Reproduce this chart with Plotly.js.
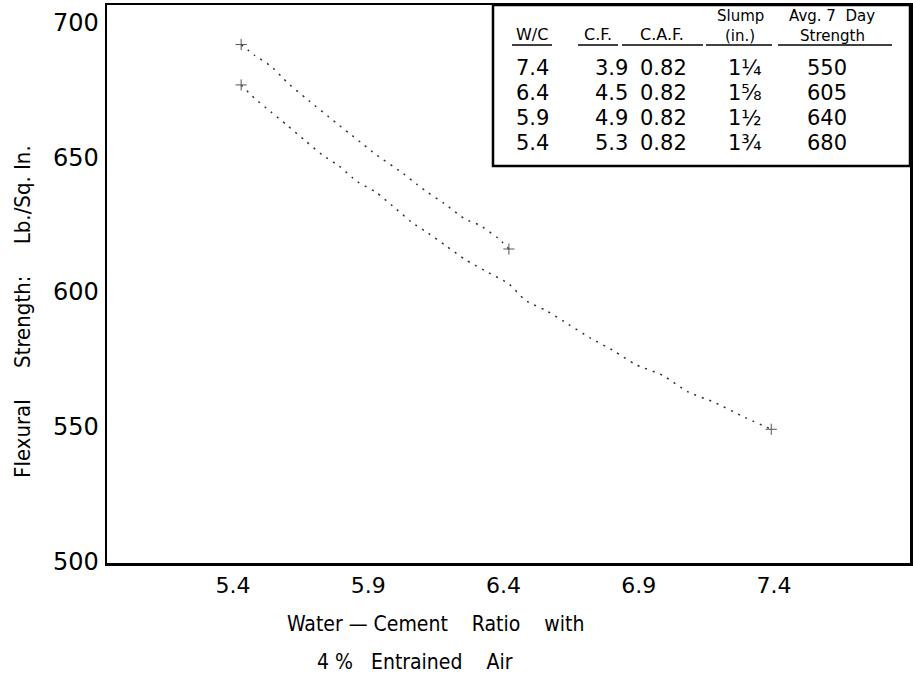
<!DOCTYPE html>
<html><head><meta charset="utf-8">
<script src="https://cdn.plot.ly/plotly-3.0.1.min.js"></script>
<style>body{margin:0;background:#fff}#chart{width:913px;height:679px}</style>
</head><body><div id="chart"></div>
<script>
// ---- data ----
const ratioTicks = [5.4, 5.9, 6.4, 6.9, 7.4];
const ratioTickText = ["5.4", "5.9", "6.4", "6.9", "7.4"];
const strengthTicks = [500, 550, 600, 650, 700];
const strengthTickText = ["500", "550", "600", "650", "700"];

// lower curve: Avg. 7 day strength vs W/C
const lowerX = [5.43, 5.48, 5.54, 5.60, 5.67, 5.73, 5.79, 5.86, 5.93, 5.99, 6.06, 6.12, 6.19, 6.26, 6.33, 6.42, 6.48, 6.56, 6.64, 6.72, 6.81, 6.89, 6.99, 7.08, 7.18, 7.28, 7.39];
const lowerY = [677, 672, 667, 662, 656, 651, 647, 641, 637, 632, 626, 622, 617, 612, 608, 603, 597, 593, 588, 583, 578, 573, 569, 563, 559, 554, 549];

// upper curve
const upperX = [5.43, 5.48, 5.54, 5.58, 5.61, 5.67, 5.78, 5.83, 5.88, 5.93, 6.03, 6.08, 6.12, 6.18, 6.26, 6.31, 6.38, 6.42];
const upperY = [692, 688, 684, 680, 677, 672, 663, 659, 655, 651, 644, 640, 637, 633, 627, 625, 620, 616];

// table
const colHeaderTop = ["", "", "", "Slump", "Avg. 7  Day"];
const colHeaderBottom = ["W/C", "C.F.", "C.A.F.", "(in.)", "Strength"];
const tableWC = ["7.4", "6.4", "5.9", "5.4"];
const tableCF = ["3.9", "4.5", "4.9", "5.3"];
const tableCAF = ["0.82", "0.82", "0.82", "0.82"];
const tableSlump = ["1¼", "1⅝", "1½", "1¾"];
const tableStrength = ["550", "605", "640", "680"];

// ---- layout helpers (pixel positions -> paper) ----
const W = 913, H = 679;
const M = {l: 107, r: 3, t: 5, b: 116};
const PW = W - M.l - M.r, PH = H - M.t - M.b;
const px = x => (x - M.l) / PW;
const py = y => (H - M.b - y) / PH;

const FONT = "'DejaVu Sans', 'Liberation Sans', sans-serif";
const NARROW = "'DejaVu Sans Condensed', 'Liberation Sans Narrow', 'Liberation Sans', sans-serif";

const lineStyle = {color: "#333", width: 1.5, dash: "2px,6px", shape: "spline", smoothing: 0.6};

const traces = [
  {x: lowerX, y: lowerY, mode: "lines", line: lineStyle, hoverinfo: "skip", showlegend: false},
  {x: upperX, y: upperY, mode: "lines", line: lineStyle, hoverinfo: "skip", showlegend: false},
  {x: [lowerX[0], lowerX[lowerX.length - 1], upperX[0], upperX[upperX.length - 1]],
   y: [lowerY[0], lowerY[lowerY.length - 1], upperY[0], upperY[upperY.length - 1]],
   mode: "markers", marker: {symbol: "cross-thin-open", size: 8, color: "#555", line: {color: "#555", width: 1}},
   hoverinfo: "skip", showlegend: false}
];

const ann = [];
const shapes = [];
// table box
shapes.push({type: "rect", xref: "paper", yref: "paper", x0: px(493), x1: px(910), y0: py(166), y1: py(5),
  line: {color: "#000", width: 2.5}, fillcolor: "rgba(0,0,0,0)"});

const colX = [532, 598, 662, 740, 832];
const valX = [532, 611, 663, 745, 827];
const underline = [[512, 552], [578, 618], [622, 703], [706, 772], [778, 892]];
for (let i = 0; i < colX.length; i++) {
  if (colHeaderTop[i]) {
    ann.push({xref: "paper", yref: "paper", x: px(colX[i]), y: py(26), text: colHeaderTop[i],
      showarrow: false, xanchor: "center", yanchor: "bottom", borderpad: 0,
      font: {family: FONT, size: 15, color: "#000"}});
    ann.push({xref: "paper", yref: "paper", x: px(colX[i]), y: py(26), text: colHeaderBottom[i],
      showarrow: false, xanchor: "center", yanchor: "top", borderpad: 0,
      font: {family: FONT, size: 15, color: "#000"}});
  } else {
    ann.push({xref: "paper", yref: "paper", x: px(colX[i]), y: py(34), text: colHeaderBottom[i],
      showarrow: false, xanchor: "center", yanchor: "middle", font: {family: FONT, size: 16, color: "#000"}});
  }
  shapes.push({type: "line", xref: "paper", yref: "paper", x0: px(underline[i][0]), x1: px(underline[i][1]),
    y0: py(45), y1: py(45), line: {color: "#000", width: 1.5}});
}
const cols = [tableWC, tableCF, tableCAF, tableSlump, tableStrength];
const rowY = [68, 93, 118, 143];
for (let c = 0; c < cols.length; c++) {
  for (let r = 0; r < rowY.length; r++) {
    ann.push({xref: "paper", yref: "paper", x: px(valX[c]), y: py(rowY[r]), text: cols[c][r],
      showarrow: false, xanchor: "center", yanchor: "middle", font: {family: FONT, size: 21, color: "#000"}});
  }
}
// axis titles
ann.push({xref: "paper", yref: "paper", x: px(22), y: py(312), text: "Flexural     Strength:     Lb./Sq. In.",
  textangle: -90, showarrow: false, xanchor: "center", yanchor: "middle", font: {family: NARROW, size: 22, color: "#000"}});
ann.push({xref: "paper", yref: "paper", x: px(435), y: py(624), text: "Water — Cement    Ratio    with",
  showarrow: false, xanchor: "center", yanchor: "middle", font: {family: NARROW, size: 21, color: "#000"}});
ann.push({xref: "paper", yref: "paper", x: px(415), y: py(662), text: "4 %   Entrained    Air",
  showarrow: false, xanchor: "center", yanchor: "middle", font: {family: NARROW, size: 21, color: "#000"}});

const layout = {
  width: W, height: H,
  margin: M,
  paper_bgcolor: "#fff", plot_bgcolor: "#fff",
  showlegend: false,
  xaxis: {range: [4.934, 7.903], tickvals: ratioTicks, ticktext: ratioTickText, ticks: "",
    showgrid: false, zeroline: false, showline: true, mirror: true, linecolor: "#000", linewidth: 2.5,
    tickfont: {family: FONT, size: 22, color: "#000"}, ticklabelstandoff: 1},
  yaxis: {range: [499.3, 706.7], tickvals: strengthTicks, ticktext: strengthTickText, ticks: "",
    showgrid: false, zeroline: false, showline: true, mirror: true, linecolor: "#000", linewidth: 2.5,
    tickfont: {family: FONT, size: 24, color: "#000"}, ticklabelstandoff: 1},
  shapes: shapes,
  annotations: ann
};
Plotly.newPlot("chart", traces, layout, {displayModeBar: false, staticPlot: true});
</script>
</body></html>
